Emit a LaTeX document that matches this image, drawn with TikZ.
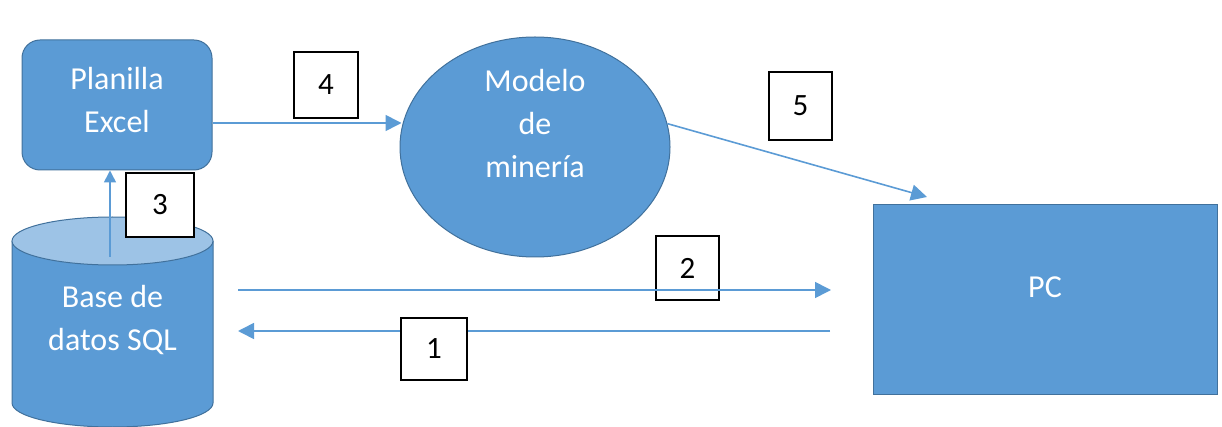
\documentclass[tikz,border=0pt]{standalone}
\usepackage{fontspec}
\setmainfont{Carlito}
\usetikzlibrary{arrows.meta,shapes.geometric}
\definecolor{obl}{HTML}{5B9BD5}
\definecolor{obd}{HTML}{41719C}
\definecolor{olt}{HTML}{9DC3E6}
\begin{document}
\begin{tikzpicture}[x=1pt,y=-1pt,
  shp/.style={fill=obl,draw=obd,line width=1pt},
  txt/.style={text=white,font=\fontsize{32}{43}\selectfont,align=center,inner sep=0pt},
  numbox/.style={draw=black,line width=1.6pt,fill=white,font=\fontsize{31}{36}\selectfont,inner sep=0pt},
  arr/.style={draw=obl,line width=1.6pt,-{Triangle[length=16pt,width=16pt]}},
  arrs/.style={draw=obl,line width=1.6pt,-{Triangle[length=12pt,width=12pt]}}]
\useasboundingbox (0,0) rectangle (1222,427);
% database cylinder
\path[fill=obl] (12,241) -- (12,403) arc[start angle=180,end angle=360,x radius=100.5pt,y radius=24pt] -- (213,241) -- cycle;
\draw[obd,line width=1pt] (12,241) -- (12,403) arc[start angle=180,end angle=360,x radius=100.5pt,y radius=24pt] -- (213,241);
\draw[fill=olt,draw=obd,line width=1pt] (112.5,241) ellipse [x radius=100.5pt,y radius=24pt];
\node[txt] (db) at (112.5,320) {Base de\\datos SQL};
% planilla
\node[shp,rounded corners=18pt,minimum width=190pt,minimum height=130pt] (planilla) at (117,105) {};
\node[txt] (ptxt) at (117,100) {Planilla\\Excel};
% model
\node[shp,ellipse,minimum width=270pt,minimum height=220pt,inner sep=0pt] (model) at (535,147) {};
\node[txt] (mtxt) at (535,124) {Modelo\\de\\minería};
% PC
\node[shp,minimum width=344pt,minimum height=189pt] (pc) at (1045,299.5) {};
\node[txt] (pctxt) at (1045,287) {PC};
% coordinates
\coordinate (a3) at (110,257);
\coordinate (a2s) at (238,290);
\coordinate (a2e) at (831,290);
\coordinate (a1s) at (830,331);
\coordinate (a1e) at (238,331);
\coordinate (a5e) at (927,197);
% arrows
\draw[arrs] (a3) -- (a3 |- planilla.south);
\draw[arr] ([yshift=-18pt]planilla.east) -- ([yshift=-18pt,xshift=2pt]planilla.east -| model.west);
\draw[arr] (model.10) -- (a5e);
\draw[arr] (a1s) -- (a1e);
% number boxes
\node[numbox,minimum width=68pt,minimum height=64pt] (n3) at (160,205) {3};
\node[numbox,minimum width=64pt,minimum height=66pt] (n4) at (326,85) {4};
\node[numbox,minimum width=63pt,minimum height=68pt] (n5) at (800.5,106) {5};
\node[numbox,minimum width=63pt,minimum height=64pt] (n2) at (687.5,268) {2};
\node[numbox,minimum width=66pt,minimum height=62pt] (n1) at (434,349) {1};
\draw[arr] (a2s) -- (a2e);
\end{tikzpicture}
\end{document}
